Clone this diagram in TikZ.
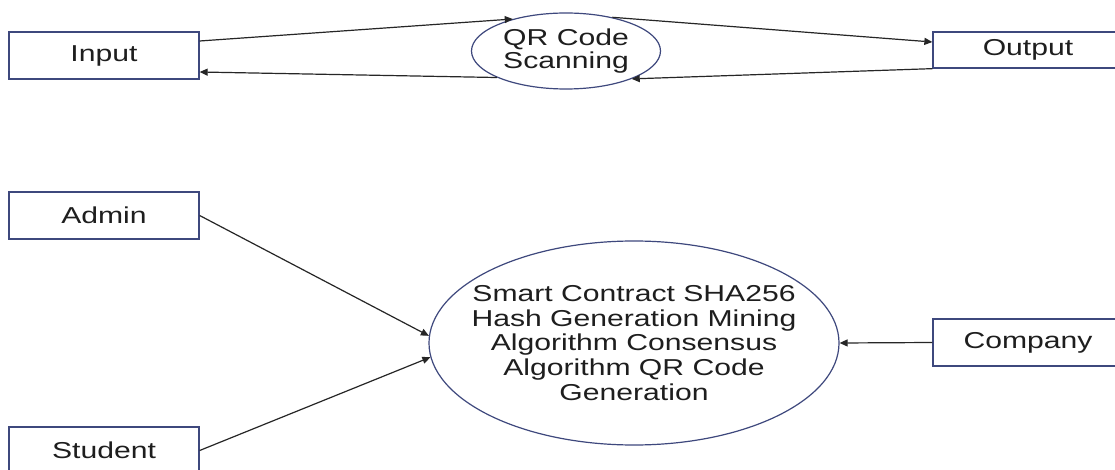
\documentclass[tikz,border=0pt]{standalone}
\usepackage{fontspec}
\setmainfont{Liberation Sans}[FakeStretch=1.31]
\usetikzlibrary{shapes.geometric,arrows.meta}
\definecolor{boxcol}{RGB}{62,72,125}
\definecolor{txtcol}{RGB}{30,30,30}
\tikzset{
  box/.style={draw=boxcol, line width=1.3pt, rectangle, minimum width=190pt, inner sep=0pt,
    text=txtcol, font=\fontsize{23}{24}\selectfont},
  ell/.style={draw=boxcol, line width=1.2pt, ellipse, inner sep=0pt, align=center,
    text=txtcol},
  arr/.style={draw=black!85, line width=1.2pt, -{Triangle[length=8pt,width=7pt]}},
}
\begin{document}
\begin{tikzpicture}[x=1pt,y=-1pt]
\clip (0,0) rectangle (1115,470);
\fill[white] (0,0) rectangle (1115,470);
% top row
\node[box, minimum height=47pt] (input) at (104,55.5) {Input};
\node[box, minimum height=36pt] (output) at (1028,50) {Output};
\node[ell, minimum width=189pt, minimum height=76pt,
  font=\fontsize{23}{23}\selectfont] (qr) at (566,51) {QR Code\\Scanning};
% bottom part
\node[box, minimum height=47pt] (admin) at (104,215.5) {Admin};
\node[box, minimum height=47pt] (student) at (104,450.5) {Student};
\node[box, minimum height=47pt] (company) at (1028,342.5) {Company};
\node[ell, minimum width=410pt, minimum height=204pt, inner xsep=-25pt,
  font=\fontsize{23}{24.7}\selectfont] (big) at (634,343)
  {Smart Contract SHA256\\Hash Generation Mining\\Algorithm Consensus\\Algorithm QR Code\\Generation};
% connectors
\draw[arr] ([yshift=14.5pt]input.east) -- (qr.149);
\draw[arr] (qr.36) -- ([yshift=8pt]output.west);
\draw[arr] (output.south west) -- (qr.-23);
\draw[arr] (qr.201) -- ([yshift=-16.5pt]input.east);
\draw[arr] (admin.east) -- (big.178);
\draw[arr] (student.east) -- (big.184);
\draw[arr] (company.west) -- (big.east);
\end{tikzpicture}
\end{document}
